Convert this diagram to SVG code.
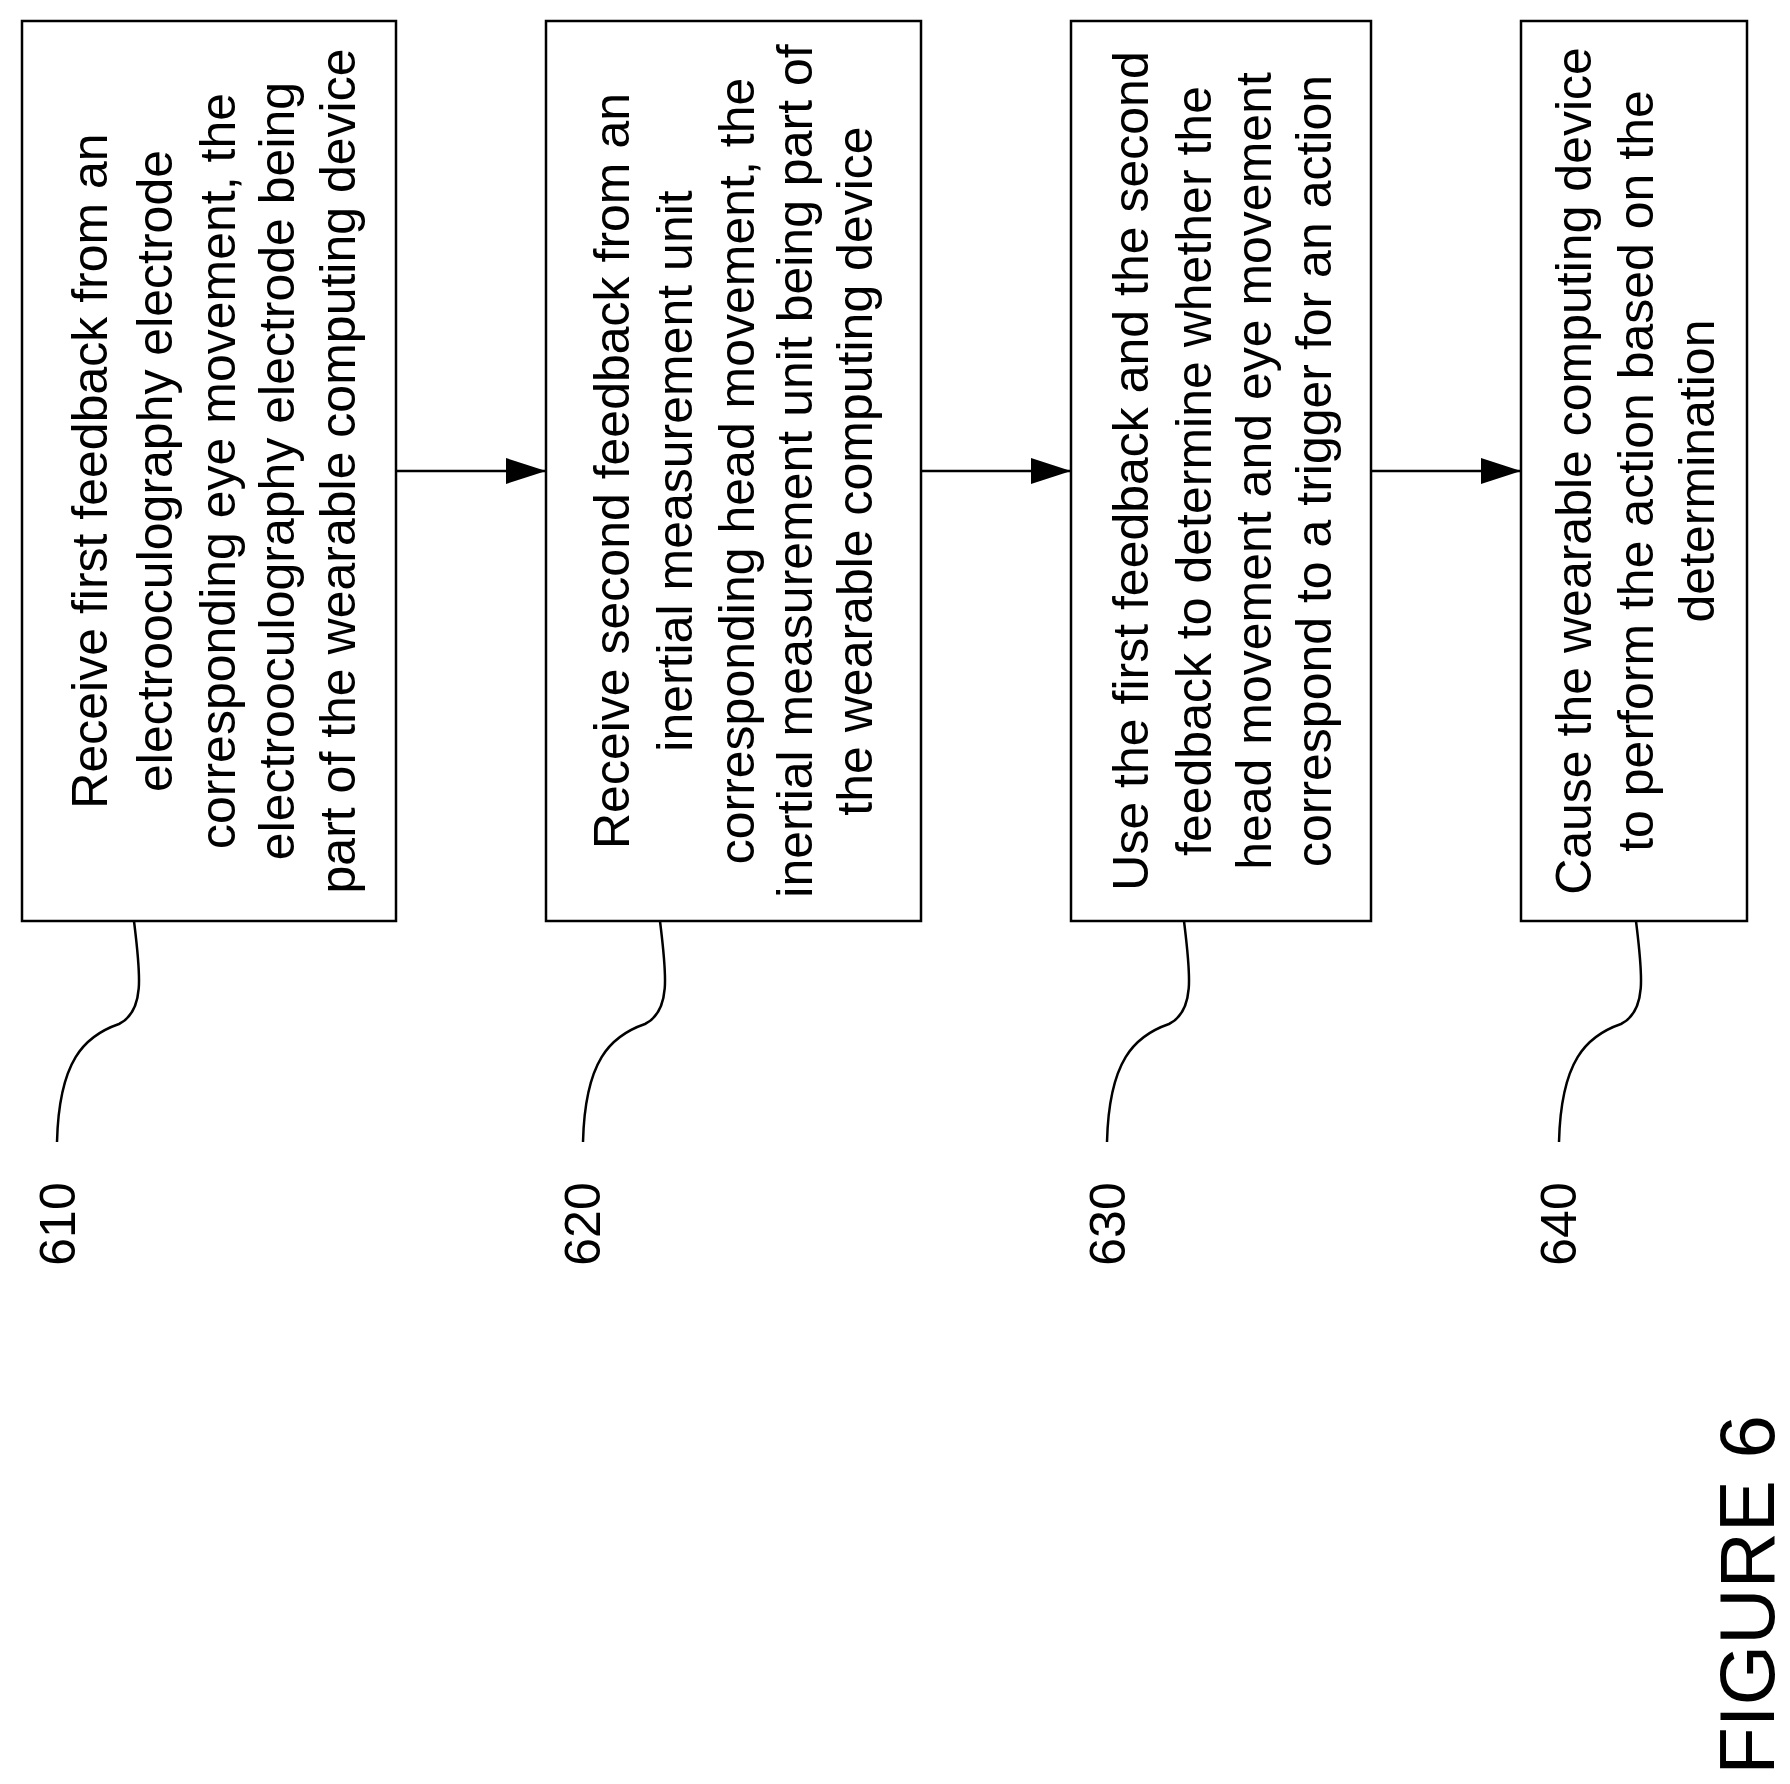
<svg xmlns="http://www.w3.org/2000/svg" width="1790" height="1784" viewBox="0 0 1790 1784">
<style>
.b{fill:#fff;stroke:#000;stroke-width:2.5}
.t{font-family:"Liberation Sans",Arial,sans-serif;font-size:50px;fill:#000;text-anchor:middle}
.c{fill:none;stroke:#000;stroke-width:2.5}
</style>
<defs>
<marker id="a" viewBox="0 0 10 10" refX="10" refY="5" markerWidth="40" markerHeight="26" markerUnits="userSpaceOnUse" orient="auto" preserveAspectRatio="none"><path d="M0 0L10 5L0 10z"/></marker>
<path id="lead" d="M0 0 C6 50,12 90,-15 103 C-50 115,-75 140,-77 221"/>
</defs>
<rect width="1790" height="1784" fill="#fff"/>
<g id="n610"><rect class="b" x="22" y="21" width="374" height="900"/>
<text class="t" transform="translate(89,471) rotate(-90)" dy="0.35em">Receive first feedback from an</text>
<text class="t" transform="translate(154,471) rotate(-90)" dy="0.35em">electrooculography electrode</text>
<text class="t" transform="translate(217,471) rotate(-90)" dy="0.35em">corresponding eye movement, the</text>
<text class="t" transform="translate(276,471) rotate(-90)" dy="0.35em">electrooculography electrode being</text>
<text class="t" transform="translate(337,471) rotate(-90)" dy="0.35em">part of the wearable computing device</text>
<use href="#lead" class="c" transform="translate(134,921)"/>
<text class="t" transform="translate(57,1224) rotate(-90)" dy="0.35em">610</text></g>
<g id="n620"><rect class="b" x="546" y="21" width="375" height="900"/>
<text class="t" transform="translate(611,471) rotate(-90)" dy="0.35em">Receive second feedback from an</text>
<text class="t" transform="translate(674,471) rotate(-90)" dy="0.35em">inertial measurement unit</text>
<text class="t" transform="translate(736,471) rotate(-90)" dy="0.35em">corresponding head movement, the</text>
<text class="t" transform="translate(794,471) rotate(-90)" dy="0.35em">inertial measurement unit being part of</text>
<text class="t" transform="translate(854,471) rotate(-90)" dy="0.35em">the wearable computing device</text>
<use href="#lead" class="c" transform="translate(660,921)"/>
<text class="t" transform="translate(582,1224) rotate(-90)" dy="0.35em">620</text></g>
<g id="n630"><rect class="b" x="1071" y="21" width="300" height="900"/>
<text class="t" transform="translate(1130,471) rotate(-90)" dy="0.35em">Use the first feedback and the second</text>
<text class="t" transform="translate(1193,471) rotate(-90)" dy="0.35em">feedback to determine whether the</text>
<text class="t" transform="translate(1253,471) rotate(-90)" dy="0.35em">head movement and eye movement</text>
<text class="t" transform="translate(1313,471) rotate(-90)" dy="0.35em">correspond to a trigger for an action</text>
<use href="#lead" class="c" transform="translate(1184,921)"/>
<text class="t" transform="translate(1107,1224) rotate(-90)" dy="0.35em">630</text></g>
<g id="n640"><rect class="b" x="1521" y="21" width="226" height="900"/>
<text class="t" transform="translate(1573,471) rotate(-90)" dy="0.35em">Cause the wearable computing device</text>
<text class="t" transform="translate(1635,471) rotate(-90)" dy="0.35em">to perform the action based on the</text>
<text class="t" transform="translate(1696,471) rotate(-90)" dy="0.35em">determination</text>
<use href="#lead" class="c" transform="translate(1636,921)"/>
<text class="t" transform="translate(1558,1224) rotate(-90)" dy="0.35em">640</text></g>
<g id="connectors" class="c">
<line x1="396" y1="471" x2="546" y2="471" marker-end="url(#a)"/>
<line x1="921" y1="471" x2="1071" y2="471" marker-end="url(#a)"/>
<line x1="1371" y1="471" x2="1521" y2="471" marker-end="url(#a)"/>
</g>
<text class="t" style="font-size:78px" transform="translate(1747,1595) rotate(-90)" dy="0.35em">FIGURE 6</text>
</svg>
